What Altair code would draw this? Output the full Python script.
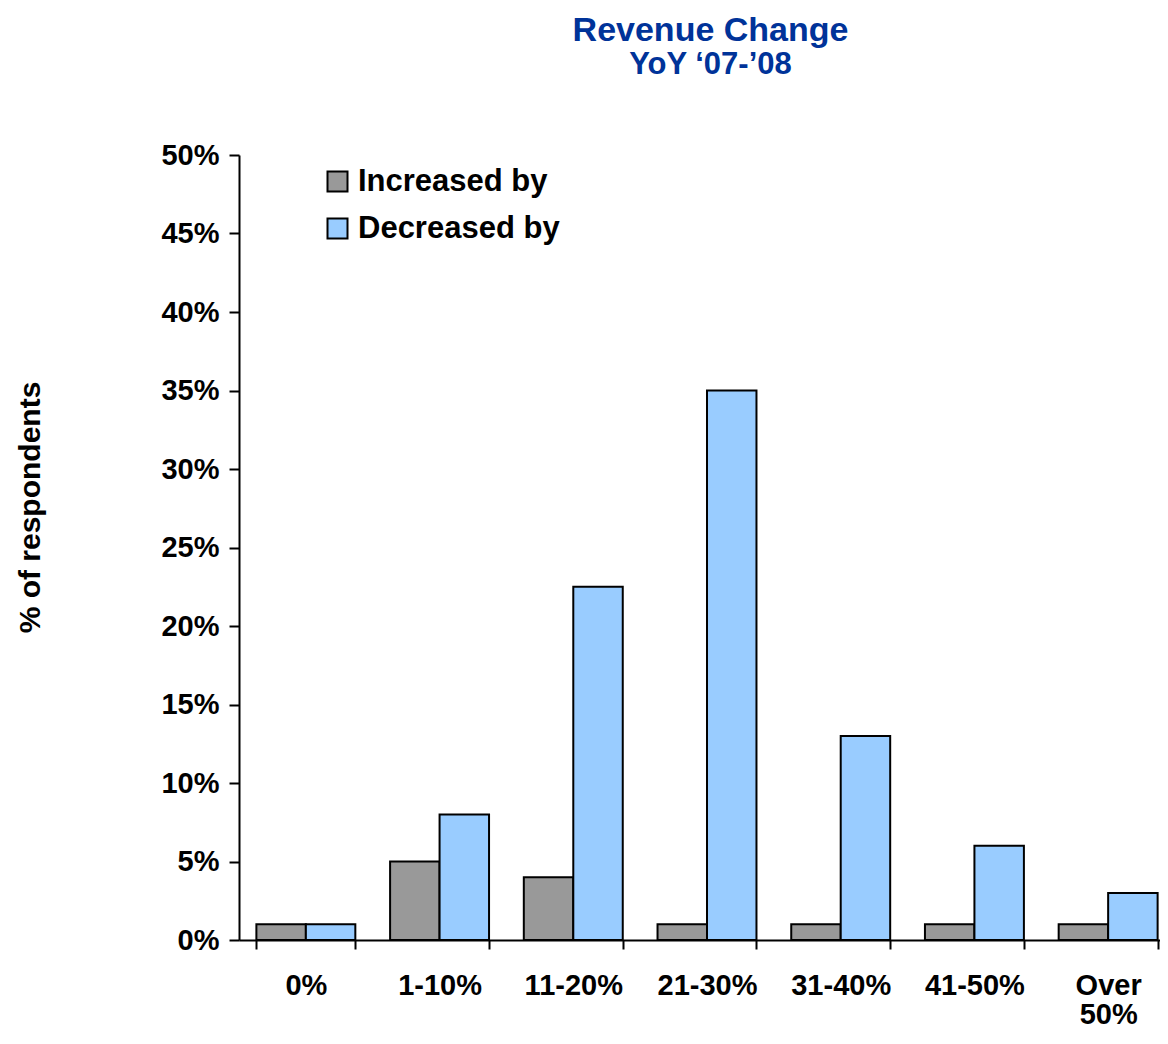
import altair as alt
import pandas as pd

categories = ["0%", "1-10%", "11-20%", "21-30%", "31-40%", "41-50%", "Over 50%"]
series = ["Increased by", "Decreased by"]
increased = [1, 5, 4, 1, 1, 1, 1]
decreased = [1, 8, 22.5, 35, 13, 6, 3]
colors = ["#999999", "#99CCFF"]
y_ticks = [0, 5, 10, 15, 20, 25, 30, 35, 40, 45, 50]

rows = []
for c, a, b in zip(categories, increased, decreased):
    rows.append({"category": c, "series": series[0], "value": a})
    rows.append({"category": c, "series": series[1], "value": b})
df = pd.DataFrame(rows)

FONT = "Liberation Sans"

chart = alt.Chart(df).mark_bar(stroke="black", strokeWidth=2).encode(
    x=alt.X(
        "category:N",
        sort=categories,
        scale=alt.Scale(range=[0, 936], paddingInner=0.26, paddingOuter=0.13),
        axis=alt.Axis(
            title=None,
            tickBand="extent",
            labelAngle=0,
            labelFont=FONT,
            labelFontSize=29,
            labelFontWeight="bold",
            labelColor="black",
            labelBaseline="top",
            labelPadding=22,
            labelLineHeight=29,
            labelLimit=0,
            labelExpr="datum.value == 'Over 50%' ? ['Over', '50%'] : datum.value",
            tickSize=9,
            tickWidth=2,
            tickColor="black",
            domainColor="black",
            domainWidth=2,
            grid=False,
        ),
    ),
    xOffset=alt.XOffset(
        "series:N", sort=series, scale=alt.Scale(domain=series, paddingInner=0, paddingOuter=0)
    ),
    y=alt.Y(
        "value:Q",
        scale=alt.Scale(domain=[0, 50], nice=False),
        axis=alt.Axis(
            values=y_ticks,
            title="% of respondents",
            titleFont=FONT,
            titleFontSize=30,
            titleFontWeight="bold",
            titleColor="black",
            titleX=-209,
            titleY=352,
            titleAlign="center",
            titleBaseline="middle",
            titleAngle=-90,
            labelExpr="datum.value + '%'",
            labelFont=FONT,
            labelFontSize=29,
            labelFontWeight="bold",
            labelColor="black",
            labelPadding=10,
            tickSize=10,
            tickWidth=2,
            tickColor="black",
            domainColor="black",
            domainWidth=2,
            grid=False,
        ),
    ),
    color=alt.Color(
        "series:N",
        sort=series,
        scale=alt.Scale(domain=series, range=colors),
        legend=alt.Legend(
            orient="none",
            legendX=83,
            legendY=11,
            title=None,
            padding=0,
            symbolType="square",
            symbolSize=400,
            symbolStrokeColor="black",
            symbolStrokeWidth=2,
            symbolOpacity=1,
            labelFont=FONT,
            labelFontSize=31,
            labelFontWeight="bold",
            labelColor="black",
            labelOffset=5,
            labelLimit=0,
            rowPadding=15,
        ),
    ),
).properties(
    width=921,
    height=785,
    title=alt.TitleParams(
        text="Revenue Change",
        subtitle="YoY \u201807-\u201908",
        font=FONT,
        subtitleFont=FONT,
        fontSize=34,
        subtitleFontSize=31,
        fontWeight="bold",
        subtitleFontWeight="bold",
        color="#003399",
        subtitleColor="#003399",
        anchor="middle",
        offset=61,
        dx=11,
        subtitlePadding=2,
    ),
    autosize=alt.AutoSizeParams(type="none"),
    padding={"left": 231, "top": 147, "right": 0, "bottom": 90},
).configure_view(stroke=None)

chart.save("out.html", embed_options={"renderer": "svg", "actions": False})
